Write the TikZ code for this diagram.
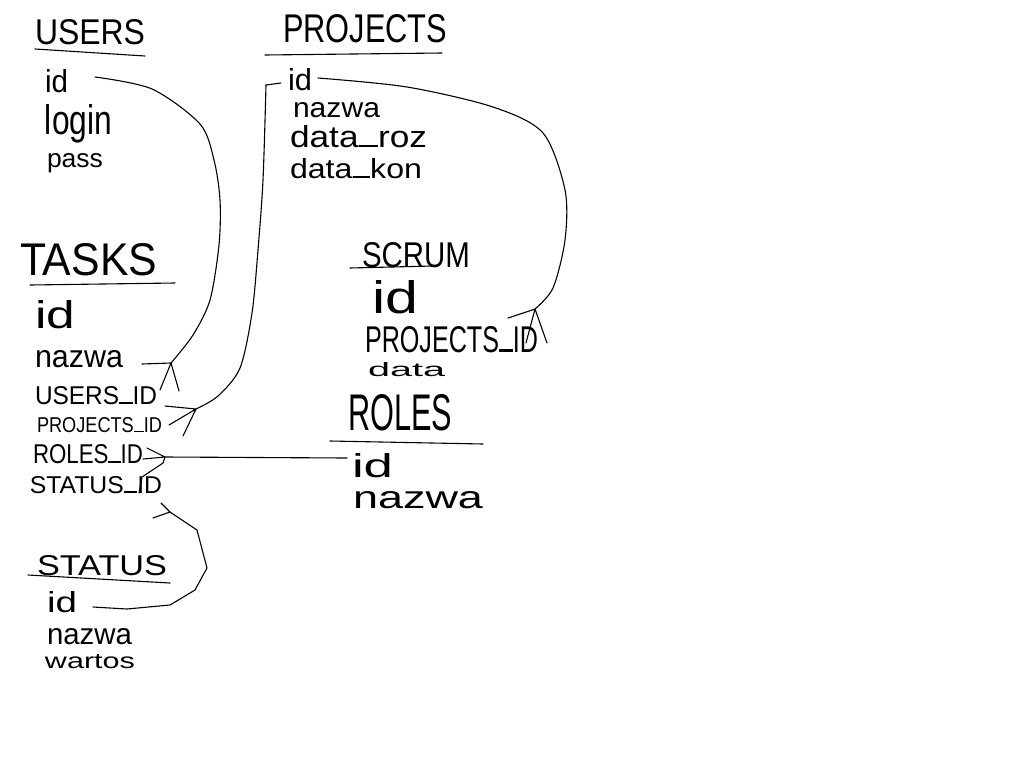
\documentclass[tikz,border=0pt]{standalone}
\usepackage{fontspec}
\setmainfont{Liberation Sans}
\usepackage{graphicx}
\newcommand{\hw}[3]{\resizebox{#1pt}{#2pt}{#3}}
\newcommand{\us}{\rule{0.55em}{0.07em}}
\tikzset{
  lbl/.style={anchor=base west, inner sep=0pt, outer sep=0pt},
  ln/.style={line width=1.1pt, line join=round, line cap=round},
}
\begin{document}
\begin{tikzpicture}[x=1pt,y=-1pt]
\useasboundingbox (0,0) rectangle (1024,768);
% ---------- USERS ----------
\node[lbl] (users) at (35,45) {\hw{110}{25}{USERS}};
\draw[ln] (35,49) -- (145,56);
\node[lbl] (users-id) at (45,92) {\hw{23}{23}{id}};
\node[lbl] (users-login) at (45,134) {\hw{67}{30}{login}};
\node[lbl] (users-pass) at (47,167) {\hw{56}{14}{pass}};
% ---------- PROJECTS ----------
\node[lbl] (projects) at (283,43) {\hw{164}{28}{PROJECTS}};
\draw[ln] (265,55) -- (442,53);
\node[lbl] (projects-id) at (288,90) {\hw{24}{22}{id}};
\node[lbl] (projects-nazwa) at (293,117) {\hw{87}{15}{nazwa}};
\node[lbl] (projects-roz) at (290,147) {\hw{137}{22}{data\us roz}};
\node[lbl] (projects-kon) at (290,178) {\hw{132}{20}{data\us kon}};
% ---------- TASKS ----------
\node[lbl] (tasks) at (20,275) {\hw{137}{32}{TASKS}};
\draw[ln] (30,285) -- (175,283);
\node[lbl] (tasks-id) at (35,328) {\hw{40}{28}{id}};
\node[lbl] (tasks-nazwa) at (35,367) {\hw{88}{17}{nazwa}};
\node[lbl] (tasks-users) at (35,404) {\hw{122}{18}{USERS\us ID}};
\node[lbl] (tasks-projects) at (37,432) {\hw{125}{15}{PROJECTS\us ID}};
\node[lbl] (tasks-roles) at (33,463) {\hw{110}{19}{ROLES\us ID}};
\node[lbl] (tasks-status) at (30,493) {\hw{132}{17}{STATUS\us ID}};
% ---------- SCRUM ----------
\node[lbl] (scrum) at (362,267) {\hw{108}{25}{SCRUM}};
\draw[ln] (350,268) -- (433,266);
\node[lbl] (scrum-id) at (372,313) {\hw{46}{33}{id}};
\node[lbl] (scrum-projects) at (365,352) {\hw{173}{26}{PROJECTS\us ID}};
\node[lbl] (scrum-data) at (368,376) {\hw{77}{14}{data}};
% ---------- ROLES ----------
\node[lbl] (roles) at (348,430) {\hw{104}{36}{ROLES}};
\draw[ln] (330,441) -- (483,444);
\node[lbl] (roles-id) at (352,477) {\hw{41}{24}{id}};
\node[lbl] (roles-nazwa) at (353,508) {\hw{130}{17}{nazwa}};
% ---------- STATUS ----------
\node[lbl] (status) at (37,575) {\hw{130}{20}{STATUS}};
\draw[ln] (28,575) -- (170,583);
\node[lbl] (status-id) at (47,612) {\hw{30}{21}{id}};
\node[lbl] (status-nazwa) at (47,644) {\hw{85}{16}{nazwa}};
\node[lbl] (status-wartos) at (45,668) {\hw{90}{14}{wartos}};
% ---------- connector end points ----------
\coordinate (u-a) at (95,77);
\coordinate (u-b) at (171,363);
\coordinate (p-a) at (318,78);
\coordinate (p-b) at (535,309);
\coordinate (p-c) at (281,83);
\coordinate (p-d) at (196,409);
\coordinate (r-a) at (347,458);
\coordinate (r-b) at (165,457);
\coordinate (s-a) at (93,607);
\coordinate (s-b) at (170,512);
% USERS.id -> TASKS.USERS_ID
\draw[ln] plot[smooth, tension=0.5] coordinates {(u-a) (152,89) (200,124) (214,160) (220,200) (219,245) (210,300) (193,335) (u-b)};
\draw[ln] (u-b) -- (142,364) (u-b) -- (160,390) (u-b) -- (179,391);
% PROJECTS.id -> SCRUM.PROJECTS_ID
\draw[ln] plot[smooth, tension=0.5] coordinates {(p-a) (407,87) (493,107) (543,133) (565,190) (565,240) (553,288) (p-b)};
\draw[ln] (p-b) -- (508,318) (p-b) -- (526,343) (p-b) -- (547,343);
% PROJECTS.id -> TASKS.PROJECTS_ID
\draw[ln] (p-c) -- (266,85);
\draw[ln] plot[smooth, tension=0.5] coordinates {(266,85) (263,180) (258,250) (252,313) (240,368) (218,396) (p-d)};
\draw[ln] (p-d) -- (165,406) (p-d) -- (169,425) (p-d) -- (183,436);
% ROLES.id -> TASKS.ROLES_ID
\draw[ln] (r-a) -- (r-b);
\draw[ln] (r-b) -- (147,448) (r-b) -- (143,459) (r-b) -- (163,463) -- (142,477) -- (139,493);
% STATUS.id -> TASKS.STATUS_ID
\draw[ln] (s-a) -- (127,609) -- (170,605) -- (195,590) -- (207,568) -- (197,530) -- (s-b);
\draw[ln] (s-b) -- (153,518) (s-b) -- (161,503);
\end{tikzpicture}
\end{document}
